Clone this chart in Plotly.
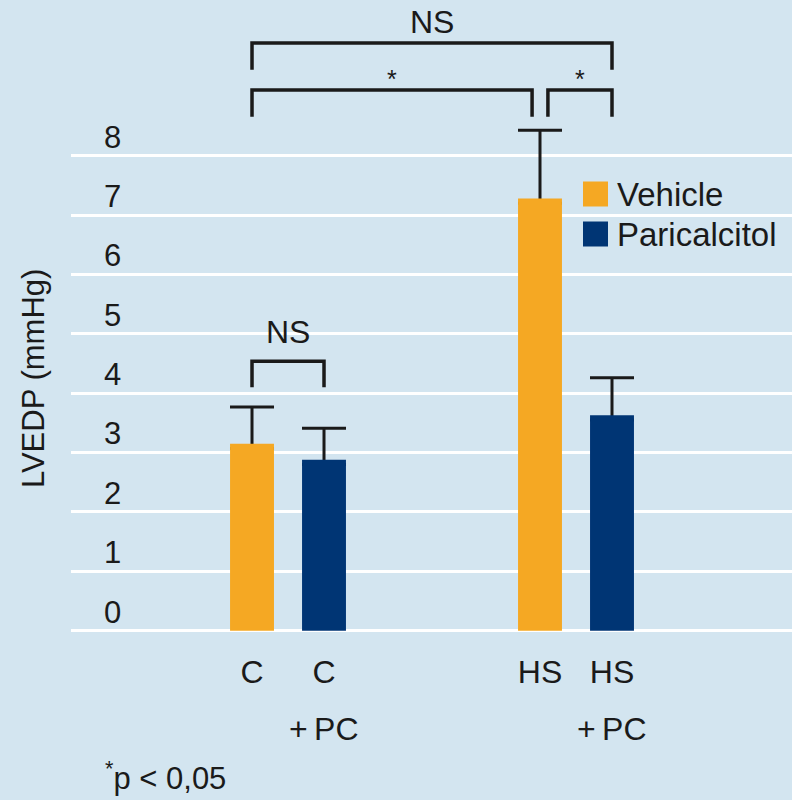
import plotly.graph_objects as go

# ---- data ----
groups = ["C", "HS"]
series_names = ["Vehicle", "Paricalcitol"]
vehicle_mean = [3.15, 7.28]
vehicle_err = [0.62, 1.15]
paricalcitol_mean = [2.88, 3.63]
paricalcitol_err = [0.53, 0.63]
x_sublabel = "+\u2009PC"
y_ticks = [0, 1, 2, 3, 4, 5, 6, 7, 8]
y_title = "LVEDP (mmHg)"
footnote = "<sup>*</sup>p < 0,05"

# ---- style ----
BG = "#D3E5F0"
ORANGE = "#F5A823"
NAVY = "#003574"
INK = "#1A1A1A"
FONT = "Liberation Sans, Arial, sans-serif"
W, H = 792, 800
ML, MR, MT, MB = 71, 0, 0, 150
PW, PH = W - ML - MR, H - MT - MB

def px(xp):
    return (xp - ML) / PW

def py(yp):
    return (PH + MT - yp) / PH

GROUP_STEP = 4
BAR_W = 0.61
pos_v = [i * GROUP_STEP for i in range(len(groups))]
pos_p = [i * GROUP_STEP + 1 for i in range(len(groups))]

fig = go.Figure()
# invisible carriers for the upward-only error bars (drawn below the bars)
for pos, mean, err in [(pos_v, vehicle_mean, vehicle_err), (pos_p, paricalcitol_mean, paricalcitol_err)]:
    fig.add_trace(go.Bar(
        x=pos, y=mean, width=BAR_W, marker=dict(color="rgba(0,0,0,0)", line=dict(width=0)),
        error_y=dict(type="data", symmetric=False, array=err, arrayminus=[0.08] * len(err),
                     color=INK, thickness=3, width=22),
        showlegend=False, hoverinfo="skip"))
fig.add_trace(go.Bar(x=pos_v, y=vehicle_mean, width=BAR_W, name=series_names[0],
                     marker=dict(color=ORANGE, line=dict(width=0)), showlegend=False))
fig.add_trace(go.Bar(x=pos_p, y=paricalcitol_mean, width=BAR_W, name=series_names[1],
                     marker=dict(color=NAVY, line=dict(width=0)), showlegend=False))

tickvals = []
ticktext = []
for i, g in enumerate(groups):
    tickvals += [pos_v[i], pos_p[i]]
    ticktext += [g, g]

shapes = []
annotations = []

def bracket(x0, x1, y_low, y_high, label, label_y, size=32):
    shapes.append(dict(type="path", xref="x", yref="y",
                       path=f"M {x0},{y_low} L {x0},{y_high} L {x1},{y_high} L {x1},{y_low}",
                       line=dict(color=INK, width=3.5)))
    annotations.append(dict(x=(x0 + x1) / 2, y=label_y, xref="x", yref="y", text=label,
                            showarrow=False, font=dict(size=size, color=INK, family=FONT),
                            yanchor="middle"))

# significance brackets
bracket(pos_v[0], pos_p[0], 4.10, 4.54, "NS", 5.04)
bracket(pos_v[0], pos_p[1], 9.45, 9.90, "NS", 10.25)
bracket(pos_v[0], pos_v[1] - 0.11, 8.66, 9.11, "*", 9.30, size=25)
bracket(pos_v[1] + 0.11, pos_p[1], 8.66, 9.11, "*", 9.30, size=25)

# +PC sub labels
for i in range(len(groups)):
    annotations.append(dict(x=pos_p[i], y=py(729), xref="x", yref="paper", text=x_sublabel,
                            showarrow=False, yanchor="middle",
                            font=dict(size=32, color=INK, family=FONT)))

# y-axis title
annotations.append(dict(x=px(33), y=py(379), xref="paper", yref="paper", text=y_title,
                        textangle=-90, showarrow=False, xanchor="center", yanchor="middle",
                        font=dict(size=31, color=INK, family=FONT)))

# footnote
annotations.append(dict(x=px(103), y=py(776), xref="paper", yref="paper",
                        text=footnote, showarrow=False, xanchor="left",
                        yanchor="middle", font=dict(size=31, color=INK, family=FONT)))

# manual legend
for name, color, yc in [(series_names[0], ORANGE, 194), (series_names[1], NAVY, 234)]:
    shapes.append(dict(type="rect", xref="paper", yref="paper",
                       x0=px(583), x1=px(608), y0=py(yc - 12.5), y1=py(yc + 12.5),
                       fillcolor=color, line=dict(width=0)))
    annotations.append(dict(x=px(615), y=py(yc), xref="paper", yref="paper", text=name,
                            showarrow=False, xanchor="left", yanchor="middle",
                            font=dict(size=33, color=INK, family=FONT)))

fig.update_layout(
    width=W, height=H, autosize=False,
    margin=dict(l=ML, r=MR, t=MT, b=MB),
    paper_bgcolor=BG, plot_bgcolor=BG,
    barmode="overlay",
    font=dict(family=FONT, color=INK, size=31),
    shapes=shapes, annotations=annotations,
    xaxis=dict(range=[-2.514, 7.5], tickvals=tickvals, ticktext=ticktext,
               showgrid=False, zeroline=False, showline=False, ticks="",
               tickfont=dict(size=32, color=INK), ticklabelstandoff=0),
    yaxis=dict(range=[-0.325, 10.625], tickvals=y_ticks, showgrid=True,
               gridcolor="white", gridwidth=3, zeroline=False, showline=False, ticks="",
               ticklabelposition="inside", ticklabelstandoff=30, ticklabelshift=-19,
               tickfont=dict(size=31, color=INK)),
)

fig.write_html(
    "out.html",
    config={"displayModeBar": False},
    post_script="document.body.style.margin='0';document.body.style.overflow='hidden';"
                "document.body.style.background='" + BG + "';",
)
